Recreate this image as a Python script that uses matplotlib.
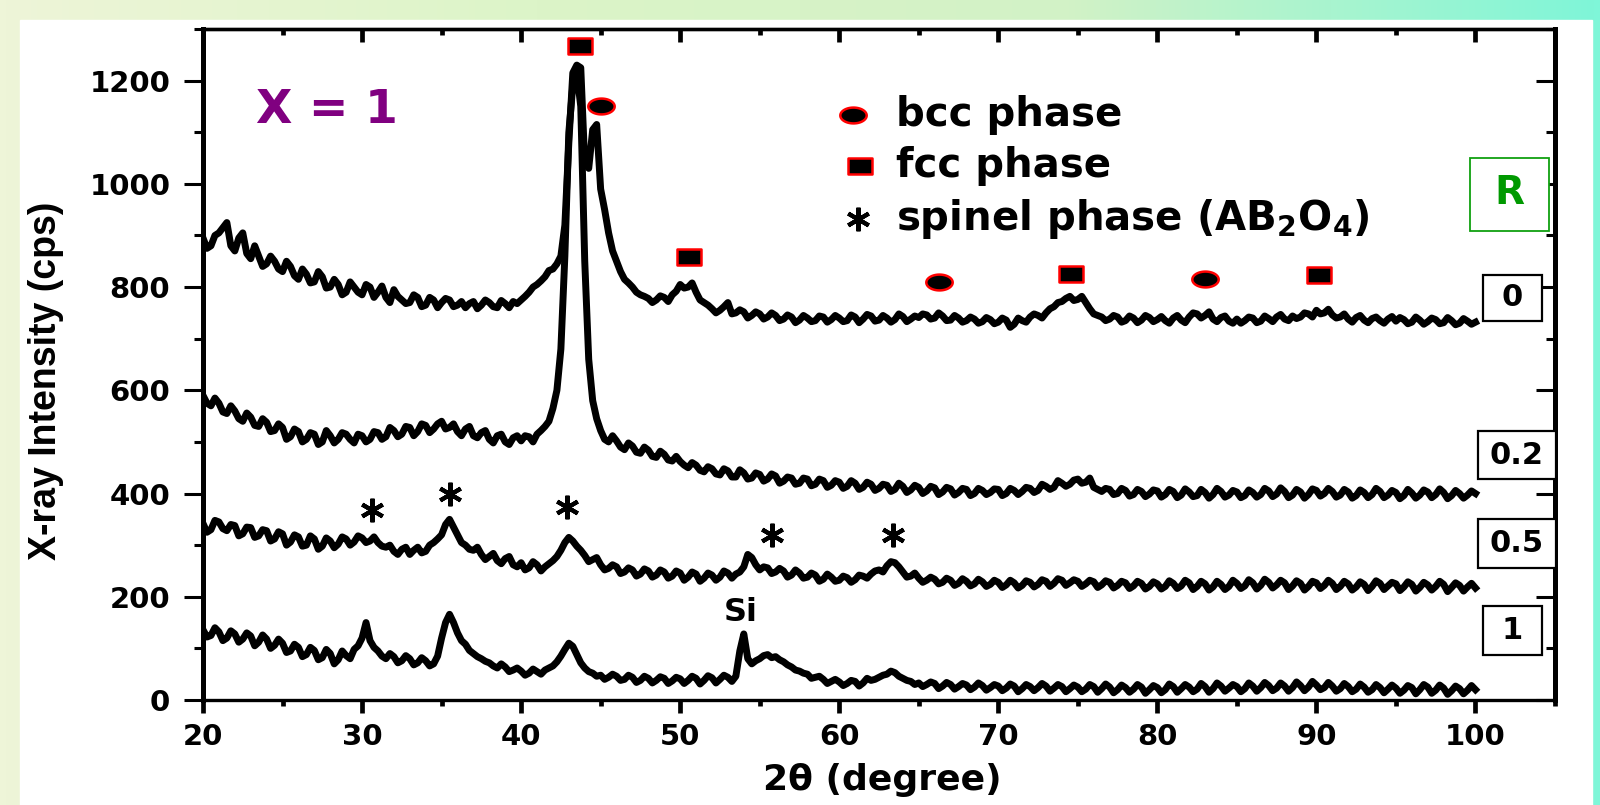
import numpy as np
import matplotlib.pyplot as plt
from matplotlib.path import Path
from matplotlib.patches import Rectangle
from matplotlib.colors import LinearSegmentedColormap
from matplotlib.ticker import MultipleLocator

plt.rcParams['font.family'] = 'DejaVu Sans'
plt.rcParams['font.weight'] = 'bold'
plt.rcParams['mathtext.default'] = 'bf'

# 2theta: values on the half degrees (20, 20.5 ... 100) and on the
# quarter points in between (20.25, 20.75 ... 99.75)
two_theta = np.arange(20, 100.001, 0.25)

# x = 0
y_0 = [895, 880, 905, 925, 870, 905, 855, 860, 845, 850,
       830, 840, 815, 825, 810, 820, 800, 805, 790, 800,
       785, 800, 790, 780, 795, 775, 770, 780, 765, 775,
       770, 775, 765, 760, 772, 765, 770, 760, 768, 772,
       775, 790, 805, 820, 835, 860, 1080, 1230, 1040, 1105,
       990, 905, 850, 815, 800, 785, 778, 775, 780, 785,
       805, 800, 790, 770, 758, 755, 770, 750, 752, 745,
       748, 742, 745, 738, 742, 736, 740, 735, 742, 737,
       740, 735, 742, 738, 744, 736, 740, 737, 743, 738,
       741, 746, 740, 744, 736, 740, 735, 738, 733, 737,
       732, 736, 728, 735, 742, 745, 750, 762, 772, 782,
       776, 770, 748, 742, 738, 742, 735, 740, 736, 741,
       737, 735, 740, 736, 742, 748, 745, 738, 741, 734,
       738, 735, 740, 734, 739, 742, 738, 744, 742, 748,
       755, 750, 746, 742, 738, 741, 736, 739, 735, 738,
       734, 737, 732, 736, 733, 737, 731, 735, 730, 734,
       732]
y_0_mid = [875, 900, 915, 880, 895, 865, 880, 840, 860, 835,
           850, 822, 835, 808, 830, 798, 815, 785, 810, 790,
           805, 780, 802, 770, 782, 768, 785, 762, 780, 760,
           778, 762, 772, 768, 758, 775, 762, 774, 760, 768,
           782, 800, 812, 832, 845, 920, 1215, 1225, 1030, 1115,
           950, 870, 830, 808, 790, 782, 770, 783, 772, 792,
           798, 808, 775, 765, 750, 762, 748, 756, 740, 752,
           738, 750, 735, 746, 731, 745, 733, 744, 732, 745,
           733, 746, 731, 747, 734, 745, 732, 748, 733, 744,
           748, 738, 750, 735, 745, 732, 742, 730, 741, 729,
           740, 722, 740, 732, 748, 740, 758, 770, 778, 774,
           782, 758, 745, 735, 745, 732, 744, 731, 745, 733,
           743, 730, 745, 731, 750, 740, 752, 733, 744, 730,
           730, 742, 731, 744, 733, 747, 735, 739, 750, 742,
           748, 757, 740, 748, 732, 745, 731, 742, 730, 743,
           741, 729, 742, 728, 740, 729, 741, 727, 739, 728]

# x = 0.2
y_02 = [590, 570, 575, 555, 560, 540, 548, 530, 538, 522,
        528, 510, 520, 505, 515, 500, 512, 505, 515, 498,
        512, 505, 518, 510, 522, 515, 528, 520, 532, 525,
        540, 528, 520, 525, 512, 518, 505, 512, 500, 508,
        502, 510, 515, 530, 565, 680, 1100, 1215, 850, 580,
        522, 500, 502, 485, 492, 478, 484, 470, 476, 463,
        462, 450, 455, 442, 448, 436, 444, 432, 440, 430,
        437, 428, 434, 424, 430, 420, 428, 418, 425, 416,
        422, 414, 420, 412, 418, 410, 416, 408, 414, 407,
        412, 405, 411, 403, 409, 402, 408, 400, 406, 402,
        408, 400, 406, 404, 410, 406, 414, 412, 420, 418,
        428, 422, 412, 404, 408, 400, 406, 398, 404, 399,
        405, 398, 404, 397, 403, 396, 402, 398, 404, 397,
        403, 396, 402, 398, 405, 399, 404, 397, 403, 398,
        406, 400, 404, 397, 403, 396, 402, 398, 404, 397,
        402, 396, 401, 397, 403, 398, 402, 396, 400, 397,
        400]
y_02_mid = [575, 585, 558, 570, 545, 556, 532, 545, 520, 535,
            505, 525, 500, 518, 495, 522, 498, 518, 505, 515,
            500, 520, 505, 528, 510, 530, 512, 535, 518, 535,
            525, 535, 512, 530, 508, 522, 498, 515, 495, 512,
            512, 500, 522, 540, 600, 860, 1190, 1150, 660, 545,
            505, 512, 490, 498, 480, 490, 472, 482, 465, 472,
            455, 460, 445, 452, 438, 448, 432, 446, 428, 440,
            424, 438, 420, 432, 418, 430, 415, 428, 412, 425,
            410, 425, 408, 422, 406, 418, 404, 420, 402, 416,
            400, 414, 398, 412, 397, 410, 396, 410, 398, 409,
            396, 410, 398, 412, 402, 418, 408, 425, 414, 426,
            420, 430, 408, 410, 398, 410, 395, 408, 394, 407,
            393, 408, 392, 409, 394, 408, 391, 410, 393, 406,
            392, 407, 393, 410, 394, 411, 392, 408, 391, 409,
            395, 410, 393, 408, 391, 407, 392, 410, 392, 406,
            390, 408, 391, 407, 392, 409, 390, 406, 391, 405]

# x = 0.5
y_05 = [342, 330, 345, 328, 338, 322, 334, 318, 328, 312,
        322, 306, 316, 300, 312, 298, 308, 302, 312, 306,
        314, 308, 305, 296, 288, 292, 282, 296, 288, 305,
        320, 350, 320, 300, 290, 282, 278, 270, 274, 262,
        266, 256, 262, 258, 270, 290, 315, 298, 280, 272,
        262, 255, 258, 248, 252, 244, 250, 242, 248, 240,
        246, 238, 244, 236, 242, 238, 246, 244, 258, 276,
        252, 256, 248, 250, 242, 246, 238, 242, 234, 238,
        232, 237, 233, 240, 244, 252, 260, 266, 248, 240,
        236, 232, 234, 228, 232, 226, 230, 225, 229, 224,
        228, 223, 227, 222, 228, 224, 230, 226, 232, 227,
        230, 225, 229, 223, 228, 222, 227, 221, 226, 220,
        225, 220, 226, 221, 227, 220, 225, 219, 224, 220,
        226, 221, 227, 222, 228, 223, 227, 221, 226, 220,
        227, 222, 226, 220, 225, 219, 224, 220, 226, 221,
        225, 219, 224, 218, 223, 220, 224, 218, 222, 219,
        217]
y_05_mid = [325, 348, 332, 340, 318, 335, 315, 330, 308, 326,
            300, 320, 298, 318, 292, 314, 295, 316, 300, 318,
            305, 316, 298, 300, 282, 296, 290, 285, 300, 312,
            340, 335, 305, 292, 296, 272, 284, 264, 278, 258,
            252, 268, 250, 264, 278, 305, 308, 290, 268, 276,
            252, 262, 245, 256, 240, 254, 238, 252, 236, 250,
            232, 248, 230, 246, 232, 250, 236, 248, 282, 262,
            258, 245, 255, 238, 252, 236, 246, 230, 244, 230,
            240, 228, 242, 236, 250, 248, 268, 258, 238, 246,
            228, 238, 225, 236, 222, 235, 221, 234, 220, 232,
            218, 232, 217, 231, 219, 233, 220, 235, 222, 233,
            220, 232, 218, 231, 217, 230, 216, 230, 215, 229,
            215, 231, 216, 232, 214, 230, 213, 230, 214, 232,
            216, 233, 215, 234, 217, 232, 214, 231, 213, 230,
            216, 232, 214, 230, 213, 229, 212, 231, 214, 228,
            212, 229, 211, 228, 213, 230, 210, 227, 211, 226]

# x = 1
y_1 = [136, 125, 132, 120, 128, 118, 124, 112, 118, 106,
       110, 95, 102, 88, 96, 82, 90, 78, 86, 98,
       120, 115, 95, 80, 84, 76, 80, 72, 76, 70,
       120, 166, 130, 108, 90, 80, 72, 62, 64, 58,
       56, 52, 55, 58, 66, 85, 110, 88, 62, 52,
       48, 44, 46, 40, 44, 38, 42, 38, 42, 37,
       41, 38, 42, 38, 43, 40, 44, 46, 128, 70,
       80, 88, 84, 74, 64, 56, 50, 44, 40, 36,
       35, 32, 36, 33, 38, 44, 50, 53, 42, 36,
       33, 30, 32, 27, 30, 26, 29, 25, 28, 24,
       27, 23, 27, 22, 26, 24, 27, 23, 26, 22,
       25, 21, 26, 22, 25, 20, 24, 21, 25, 20,
       24, 20, 26, 22, 25, 21, 26, 22, 27, 23,
       26, 22, 27, 24, 28, 23, 27, 24, 28, 25,
       29, 24, 27, 22, 26, 21, 25, 20, 24, 21,
       23, 19, 24, 20, 25, 19, 23, 18, 22, 19,
       20]
y_1_mid = [122, 140, 115, 134, 112, 130, 105, 126, 100, 118,
           92, 108, 84, 102, 78, 98, 70, 95, 80, 105,
           150, 102, 85, 90, 72, 86, 68, 82, 66, 85,
           150, 150, 115, 96, 84, 75, 66, 70, 55, 62,
           48, 60, 50, 62, 74, 98, 104, 72, 55, 46,
           40, 50, 38, 48, 34, 46, 33, 45, 32, 44,
           32, 46, 31, 47, 33, 48, 36, 95, 80, 76,
           86, 82, 78, 68, 58, 52, 42, 46, 32, 40,
           28, 38, 27, 42, 40, 48, 56, 46, 38, 30,
           26, 35, 22, 34, 21, 32, 20, 33, 19, 30,
           18, 31, 16, 30, 18, 32, 17, 30, 16, 29,
           16, 30, 15, 31, 14, 29, 15, 30, 13, 28,
           14, 31, 15, 30, 16, 32, 15, 33, 17, 30,
           16, 33, 17, 34, 18, 33, 17, 35, 18, 36,
           20, 34, 17, 32, 16, 31, 15, 30, 14, 29,
           13, 28, 12, 30, 13, 29, 11, 27, 12, 28]

# phase markers
bcc_x = [45.0, 66.3, 83.0]
bcc_y = [1150, 810, 816]
fcc_x = [43.7, 50.55, 74.55, 90.15]
fcc_y = [1268, 858, 825, 823]
spinel_x = [30.6, 35.5, 42.9, 55.8, 63.4]
spinel_y = [368, 400, 374, 320, 320]

sample_labels = ['0', '0.2', '0.5', '1']


def weave(grid, mid):
    y = np.empty(len(grid) + len(mid))
    y[0::2] = grid
    y[1::2] = mid
    return y


fig = plt.figure(figsize=(16, 8.05), dpi=100)

# background: green/cyan gradient with white panel
bg = fig.add_axes([0, 0, 1, 1], zorder=-10)
cmap = LinearSegmentedColormap.from_list('bg', ['#eef5d8', '#dcf4c8', '#d2f2c6', '#7ff6d8'])
bg.imshow(np.linspace(0, 1, 256)[None, :], aspect='auto', cmap=cmap, extent=[0, 1, 0, 1])
bg.add_patch(Rectangle((20 / 1600, 0), 1572 / 1600, 1 - 20 / 805, color='white'))
bg.set_xlim(0, 1)
bg.set_ylim(0, 1)
bg.axis('off')

ax = fig.add_axes([203 / 1600, 1 - 700 / 805, 1352 / 1600, 671 / 805])
ax.set_facecolor('none')

for grid, mid in [(y_0, y_0_mid), (y_02, y_02_mid), (y_05, y_05_mid), (y_1, y_1_mid)]:
    ax.plot(two_theta, weave(grid, mid), color='black', lw=5, solid_joinstyle='round', zorder=3)

# ellipse / rectangle markers (the original figure is stretched sideways)
t = np.linspace(0, 2 * np.pi, 60)
ellipse = Path(np.column_stack([np.cos(t), 0.6 * np.sin(t)]), closed=True)
rect = Path([(-1, -0.68), (1, -0.68), (1, 0.68), (-1, 0.68), (-1, -0.68)], closed=True)

ax.plot(bcc_x, bcc_y, ls='none', marker=ellipse, ms=19, mfc='black', mec='red', mew=1.8, zorder=4, clip_on=False)
ax.plot(fcc_x, fcc_y, ls='none', marker=rect, ms=17, mfc='black', mec='red', mew=1.8, zorder=4, clip_on=False)
ax.plot(spinel_x, spinel_y, ls='none', marker=(6, 2, 0), ms=17, mec='black', mew=3, zorder=4)

# legend
ax.plot([60.85], [1134], ls='none', marker=ellipse, ms=19, mfc='black', mec='red', mew=1.8)
ax.plot([61.3], [1034], ls='none', marker=rect, ms=17, mfc='black', mec='red', mew=1.8)
ax.plot([61.2], [932], ls='none', marker=(6, 2, 0), ms=17, mec='black', mew=3)
ax.text(63.6, 1134, 'bcc phase', fontsize=29, va='center', ha='left')
ax.text(63.6, 1034, 'fcc phase', fontsize=29, va='center', ha='left')
ax.text(63.6, 932, 'spinel phase (AB$_2$O$_4$)', fontsize=29, va='center', ha='left')

ax.text(27.8, 1142, 'X = 1', fontsize=34, color='#800080', ha='center', va='center')
ax.text(53.8, 169, 'Si', fontsize=23, ha='center', va='center')

# R box and sample boxes
ax.add_patch(Rectangle((99.64, 908), 4.96, 143, fc='white', ec='#10a010', lw=1.3, clip_on=False, zorder=5))
ax.text(102.12, 982, 'R', fontsize=28, color='#009900', ha='center', va='center', zorder=6)
boxes = [(100.45, 735, 3.71, 88.6), (100.14, 428, 4.9, 92.5), (100.14, 256, 4.9, 94.7), (100.45, 86.3, 3.71, 96.5)]
for (bx, by, bw, bh), lab in zip(boxes, sample_labels):
    ax.add_patch(Rectangle((bx, by), bw, bh, fc='white', ec='black', lw=1.6, clip_on=False, zorder=5))
    ax.text(bx + bw / 2, by + bh / 2, lab, fontsize=22, ha='center', va='center', zorder=6)

ax.set_xlim(20, 105)
ax.set_ylim(0, 1300)
ax.xaxis.set_major_locator(MultipleLocator(10))
ax.xaxis.set_minor_locator(MultipleLocator(5))
ax.yaxis.set_major_locator(MultipleLocator(200))
ax.yaxis.set_minor_locator(MultipleLocator(100))
ax.tick_params(axis='x', which='major', direction='out', length=9.5, width=3.4, labelsize=21, pad=7)
ax.tick_params(axis='x', which='minor', direction='out', length=4.5, width=3.4)
ax.tick_params(axis='y', which='major', direction='out', length=13.5, width=2.2, labelsize=21, pad=10)
ax.tick_params(axis='y', which='minor', direction='out', length=6.5, width=2.2)
for s in ['left', 'right']:
    ax.spines[s].set_linewidth(3.6)
for s in ['top', 'bottom']:
    ax.spines[s].set_linewidth(2.4)

top = ax.secondary_xaxis('top')
top.xaxis.set_major_locator(MultipleLocator(10))
top.xaxis.set_minor_locator(MultipleLocator(5))
top.tick_params(which='major', direction='in', length=9.5, width=3.4, labeltop=False)
top.tick_params(which='minor', direction='in', length=4.5, width=3.4)
top.spines['top'].set_linewidth(2.4)
right = ax.secondary_yaxis('right')
right.yaxis.set_major_locator(MultipleLocator(200))
right.yaxis.set_minor_locator(MultipleLocator(100))
right.tick_params(which='major', direction='in', length=13.5, width=2.2, labelright=False)
right.tick_params(which='minor', direction='in', length=6.5, width=2.2)
right.spines['right'].set_linewidth(3.6)

fig.text(882 / 1600, 1 - 780 / 805, '2\u03b8 (degree)', fontsize=26, ha='center', va='center')
fig.text(46 / 1600, 1 - 381 / 805, 'X-ray Intensity (cps)', fontsize=27, rotation=90,
         ha='center', va='center', family=['Liberation Sans Narrow', 'Liberation Sans'])

fig.savefig('out.png', dpi=100)
